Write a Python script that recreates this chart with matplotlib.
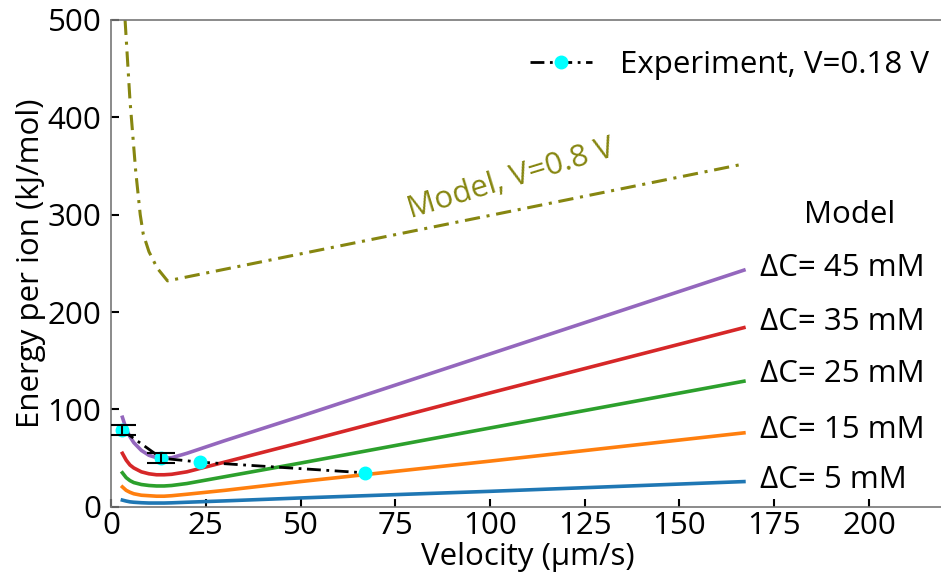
import matplotlib
matplotlib.use("Agg")
import matplotlib.pyplot as plt

# model curves, energy per ion vs velocity
conc_labels = ["ΔC= 45 mM", "ΔC= 35 mM", "ΔC= 25 mM", "ΔC= 15 mM", "ΔC= 5 mM"]
conc_colors = ["#9467bd", "#d62728", "#2ca02c", "#ff7f0e", "#1f77b4"]
v_model = [3, 4, 5, 6, 8, 10, 12, 14, 16, 20, 30, 50, 100, 167]
e_45 = [92, 80, 72, 66, 58, 53, 50.5, 50, 50.5, 55, 68, 93, 157, 243]
e_35 = [55, 48, 43, 40, 36, 34, 33, 33, 33.5, 36, 46, 66, 117, 184]
e_25 = [35, 30, 27, 25, 23, 22, 21.5, 21.5, 22, 24, 31, 45, 81, 129]
e_15 = [20.5, 17, 15, 13.5, 12, 11.5, 11, 11, 11.5, 13, 17, 26, 47, 76]
e_5 = [7, 6, 5.2, 4.8, 4.3, 4, 4, 4, 4.2, 4.8, 6.2, 9.2, 16, 26]
model_curves = [e_45, e_35, e_25, e_15, e_5]

# model at V = 0.8 V
v_high = [3.7, 5, 6.5, 7.7, 8.5, 10, 12.2, 14.9, 167]
e_high = [500, 417, 345, 300, 280, 262, 245, 232, 352]

# experiment at V = 0.18 V (only the first two points have visible error bars)
v_exp = [2.9, 13.3, 23.4, 67]
e_exp = [79, 50, 46, 35]
e_err = [5, 5]

plt.rcParams["font.family"] = ["Open Sans", "DejaVu Sans"]
fs = 22.5
olive = "#868610"

fig = plt.figure(figsize=(9.41, 5.8), dpi=100)
ax = fig.add_axes([0.118, 0.126, 0.886, 0.840])

for e, c in zip(model_curves, conc_colors):
    ax.plot(v_model, e, color=c, lw=2.6)

ax.plot(v_high, e_high, color=olive, lw=2.2, dashes=(5, 2.2, 1, 2.2))

ax.plot(v_exp, e_exp, color="black", lw=2.0, dashes=(5, 2, 1, 2),
        marker="o", ms=9, mfc="cyan", mec="cyan",
        label="Experiment, V=0.18 V", zorder=6)
n = len(e_err)
ax.errorbar(v_exp[:n], e_exp[:n], yerr=e_err, fmt="none", ecolor="black",
            elinewidth=1.5, capsize=10, capthick=1.5, zorder=7)

ax.text(105.7, 336, "Model, V=0.8 V", color=olive, fontsize=fs,
        rotation=17, ha="center", va="center")
ax.text(195, 300, "Model", fontsize=fs, ha="center", va="center")
for lbl, y in zip(conc_labels, [245, 190, 136, 79, 28]):
    ax.text(171.3, y, lbl, fontsize=fs, ha="left", va="center")

ax.legend(loc="upper right", bbox_to_anchor=(1.015, 0.995), frameon=False,
          fontsize=fs, handlelength=2.0, handletextpad=0.9)

ax.set_xlim(0, 220)
ax.set_ylim(0, 500)
ax.set_xticks([0, 25, 50, 75, 100, 125, 150, 175, 200])
ax.set_yticks([0, 100, 200, 300, 400, 500])
ax.tick_params(direction="in", labelsize=fs, length=6, width=1.5)
ax.tick_params(axis="x", pad=3)
ax.tick_params(axis="y", pad=7)
for s in ax.spines.values():
    s.set_color("#777777")
    s.set_linewidth(1.2)
ax.set_xlabel("Velocity (µm/s)", fontsize=fs, labelpad=1)
ax.set_ylabel("Energy per ion (kJ/mol)", fontsize=fs, labelpad=1)

fig.savefig("out.png", dpi=100)
